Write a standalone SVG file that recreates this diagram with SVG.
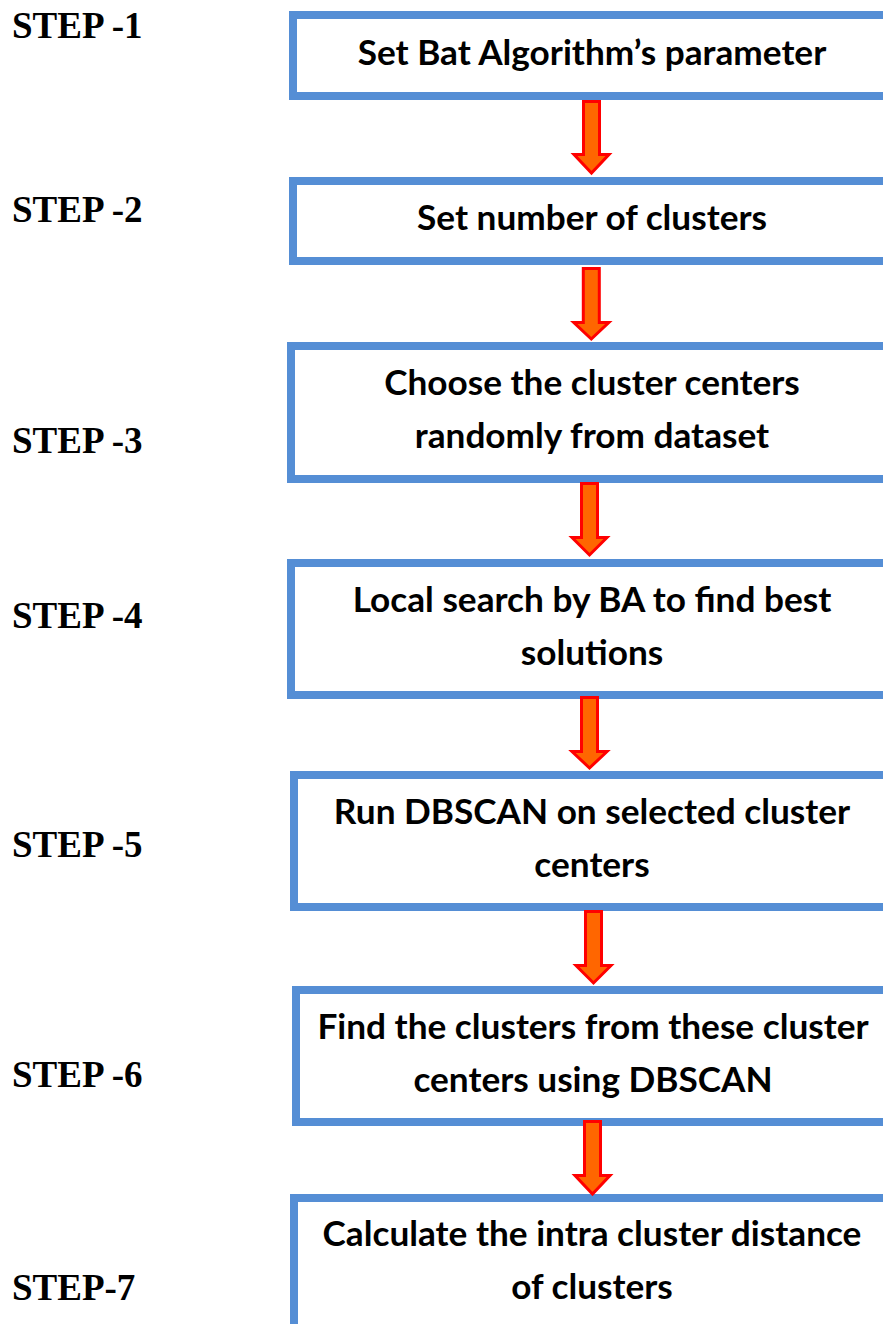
<svg xmlns="http://www.w3.org/2000/svg" width="883" height="1324" viewBox="0 0 883 1324">
<style>
.box{fill:#ffffff;stroke:#558ED5;stroke-width:8}
.t{font-family:Lato,"Open Sans",sans-serif;font-weight:bold;font-size:35.2px;fill:#000;text-anchor:middle}
.s{font-family:"Liberation Serif","Times New Roman",serif;font-weight:bold;font-size:37px;fill:#000}
.arr{fill:#FF6600;stroke:#FF0000;stroke-width:3;stroke-linejoin:miter}
</style>
<rect width="883" height="1324" fill="#ffffff"/>
<g id="labels">
<text class="s" x="12" y="38">STEP -1</text>
<text class="s" x="12" y="222">STEP -2</text>
<text class="s" x="12" y="453">STEP -3</text>
<text class="s" x="12" y="628">STEP -4</text>
<text class="s" x="12" y="857">STEP -5</text>
<text class="s" x="12" y="1087">STEP -6</text>
<text class="s" x="12" y="1300">STEP-7</text>
</g>
<g id="node1"><rect class="box" x="293" y="15" width="620" height="81"/><text class="t" x="592" y="65">Set Bat Algorithm’s parameter</text></g>
<g id="node2"><rect class="box" x="293" y="181" width="620" height="80"/><text class="t" x="592" y="230">Set number of clusters</text></g>
<g id="node3"><rect class="box" x="291" y="346" width="620" height="133"/><text class="t" x="592" y="395">Choose the cluster centers</text><text class="t" x="592" y="448">randomly from dataset</text></g>
<g id="node4"><rect class="box" x="291" y="563" width="620" height="132"/><text class="t" x="592" y="612">Local search by BA to find best</text><text class="t" x="592" y="665">solutions</text></g>
<g id="node5"><rect class="box" x="294" y="775" width="620" height="132"/><text class="t" x="592" y="824">Run DBSCAN on selected cluster</text><text class="t" x="592" y="877">centers</text></g>
<g id="node6"><rect class="box" x="296" y="990" width="620" height="132"/><text class="t" x="593" y="1039">Find the clusters from these cluster</text><text class="t" x="593" y="1092">centers using DBSCAN</text></g>
<g id="node7"><rect class="box" x="294" y="1198" width="620" height="200"/><text class="t" x="592" y="1246">Calculate the intra cluster distance</text><text class="t" x="592" y="1299">of clusters</text></g>
<g id="connectors">
<path class="arr" d="M583.5 101.5 H599.5 V154.5 H609 L591.5 173 L574 154.5 H583.5 Z"/>
<path class="arr" d="M583.3 268.5 H599.3 V322.5 H608.8 L591.3 339 L573.8 322.5 H583.3 Z"/>
<path class="arr" d="M581.5 483.5 H597.5 V537.5 H607 L589.5 555 L572 537.5 H581.5 Z"/>
<path class="arr" d="M581.5 697.5 H597.5 V751.5 H607 L589.5 768 L572 751.5 H581.5 Z"/>
<path class="arr" d="M585.5 911.5 H601.5 V965.5 H611 L593.5 983 L576 965.5 H585.5 Z"/>
<path class="arr" d="M584.5 1121.5 H600.5 V1175.5 H610 L592.5 1194 L575 1175.5 H584.5 Z"/>
</g>
</svg>
